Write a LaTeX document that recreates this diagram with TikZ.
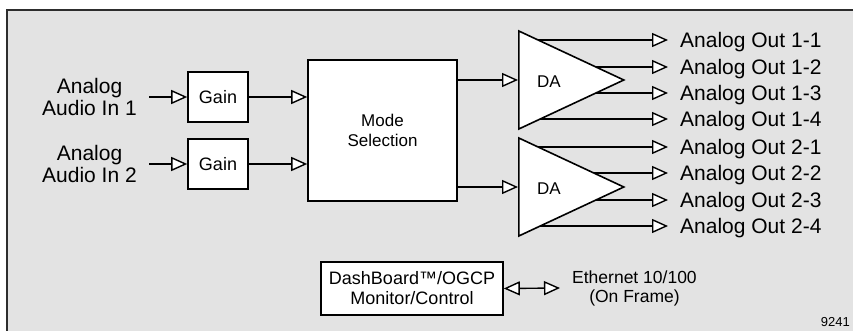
\documentclass[tikz,border=0pt]{standalone}
\usepackage{fontspec}
\setmainfont{Liberation Sans}
\usetikzlibrary{arrows.meta,shapes.geometric,backgrounds}

\definecolor{panelgray}{RGB}{227,227,227}
\definecolor{framegray}{RGB}{45,45,45}

\tikzset{
  >={Triangle[fill=white,length=16pt,width=14pt,line join=miter]},
  sig/.style={line width=1.4pt},
  blockbox/.style={draw,line width=1.6pt,fill=white,inner sep=0pt,align=center},
  amptri/.style={isosceles triangle,isosceles triangle stretches,draw,
    line width=1.6pt,fill=white,inner sep=0pt,
    minimum width=98pt,minimum height=105pt,anchor=lower side},
}

\begin{document}
\begin{tikzpicture}[x=1pt,y=-1pt]

        \useasboundingbox (0,0) rectangle (853,331);

        % blocks
        \begin{scope}[every node/.style={blockbox}]
          \node[minimum width=60pt,minimum height=50pt,font=\fontsize{18}{20}\selectfont] (g1) at (218,97)  {Gain};
          \node[minimum width=60pt,minimum height=50pt,font=\fontsize{18}{20}\selectfont] (g2) at (218,164) {Gain};
          \node[minimum width=149pt,minimum height=141pt,font=\fontsize{17}{19.5}\selectfont] (ms) at (382.5,130.5) {Mode\\Selection};
          \node[minimum width=182pt,minimum height=53pt,font=\fontsize{18}{20}\selectfont] (db) at (412,288.5) {DashBoard™/OGCP\\Monitor/Control};
        \end{scope}

        % distribution amps
        \node[amptri] (da1) at (518,80)  {};
        \node[amptri] (da2) at (518,187) {};
        \node[font=\fontsize{17}{19}\selectfont] (da1lbl) at (549,82)  {DA};
        \node[font=\fontsize{17}{19}\selectfont] (da2lbl) at (549,189) {DA};

        % inputs
        \begin{scope}[every node/.style={anchor=east,align=center,inner xsep=12pt,
            font=\fontsize{21}{22}\selectfont}]
          \node (in1) at (149,97)  {Analog\\Audio In 1};
          \node (in2) at (149,164) {Analog\\Audio In 2};
        \end{scope}

        % outputs
        \begin{scope}[every node/.style={anchor=west,inner xsep=12pt,inner ysep=0pt,
            text height=15pt,text depth=0pt,font=\fontsize{21}{22}\selectfont}]
          \node (o11) at (668,40)  {Analog Out 1-1};
          \node (o12) at (668,67)  {Analog Out 1-2};
          \node (o13) at (668,93)  {Analog Out 1-3};
          \node (o14) at (668,119) {Analog Out 1-4};
          \node (o21) at (668,147) {Analog Out 2-1};
          \node (o22) at (668,173) {Analog Out 2-2};
          \node (o23) at (668,200) {Analog Out 2-3};
          \node (o24) at (668,226) {Analog Out 2-4};
        \end{scope}

        \node[anchor=west,align=center,inner xsep=12pt,font=\fontsize{17.5}{19}\selectfont]
          (eth) at (560,288) {Ethernet 10/100\\(On Frame)};
        \node[anchor=base east,inner sep=0pt,font=\fontsize{13}{15}\selectfont]
          (fig) at (850,326) {9241};

        \begin{scope}[on background layer]
          \fill[panelgray] (7,10) rectangle (853,331);
          \draw[framegray,line width=1.5pt] (7,331) -- (7,10) -- (853,10);
          \foreach \o in {11,12,13,14}
            \draw[sig,->] (da1.lower side |- o\o.west) -- (o\o.west);
          \foreach \o in {21,22,23,24}
            \draw[sig,->] (da2.lower side |- o\o.west) -- (o\o.west);
        \end{scope}

        % signal path
        \begin{scope}[every edge/.style={draw,sig,->}]
          \path (in1.east) edge (g1.west);
          \path (in2.east) edge (g2.west);
          \path (g1.east)  edge (g1.east -| ms.west);
          \path (g2.east)  edge (g2.east -| ms.west);
          \path (ms.east |- da1.lower side) edge (da1.lower side);
          \path (ms.east |- da2.lower side) edge (da2.lower side);
          \path (db.east)  edge[<->] (eth.west);
        \end{scope}

      \end{tikzpicture}
\end{document}
